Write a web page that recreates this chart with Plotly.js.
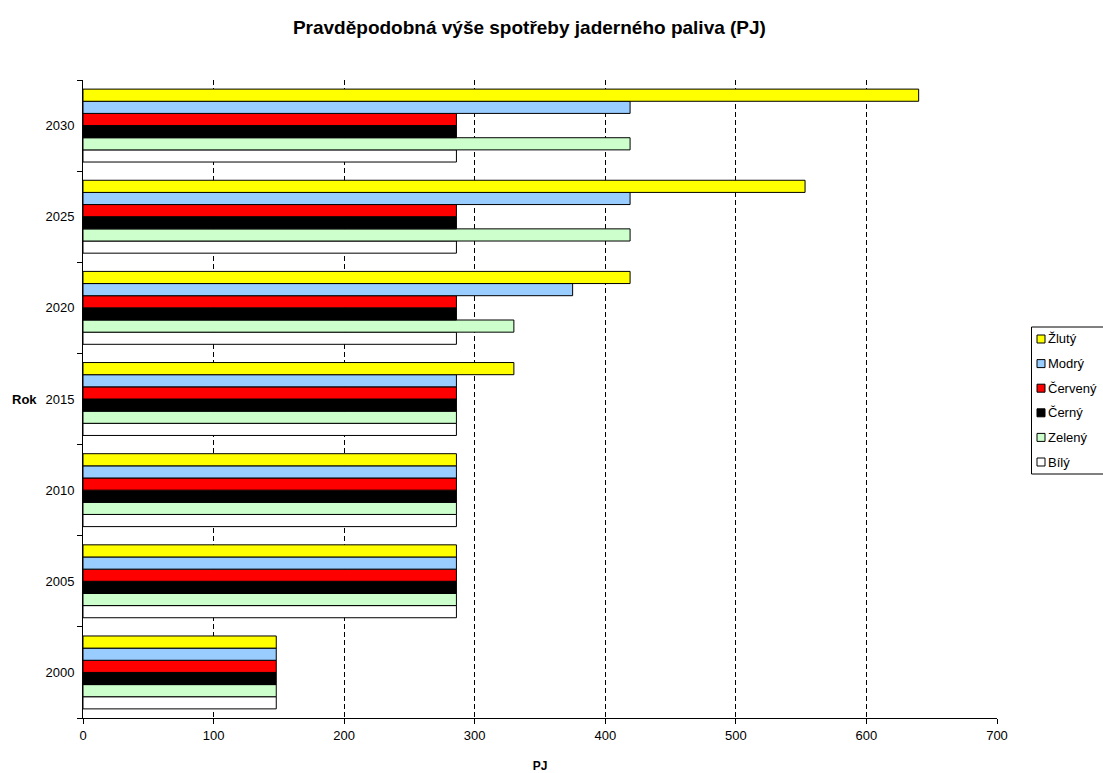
<!DOCTYPE html>
<html>
<head>
<meta charset="utf-8">
<script src="https://cdn.plot.ly/plotly-3.0.1.min.js"></script>
<style>html,body{margin:0;padding:0;background:#fff;}#chart{width:1103px;height:773px;}</style>
</head>
<body>
<div id="chart"></div>
<script>
const years = ["2000", "2005", "2010", "2015", "2020", "2025", "2030"];
const seriesNames = ["Žlutý", "Modrý", "Červený", "Černý", "Zelený", "Bílý"];
const zluty   = [148, 286, 286, 330, 419, 553, 640];
const modry   = [148, 286, 286, 286, 375, 419, 419];
const cerveny = [148, 286, 286, 286, 286, 286, 286];
const cerny   = [148, 286, 286, 286, 286, 286, 286];
const zeleny  = [148, 286, 286, 286, 330, 419, 419];
const bily    = [148, 286, 286, 286, 286, 286, 286];
const xTicks  = [0, 100, 200, 300, 400, 500, 600, 700];

const seriesValues = [zluty, modry, cerveny, cerny, zeleny, bily];
const colors = ["#FFFF00", "#99CCFF", "#FF0000", "#000000", "#CCFFCC", "#FFFFFF"];

// plot-area geometry (pixels) used only for placing the legend
const L = 83, R = 997, T = 80, B = 718;
const px2x = p => (p - L) / (R - L);
const px2y = p => (B - p) / (B - T);

const traces = [];
for (let i = seriesNames.length - 1; i >= 0; i--) {
  traces.push({
    type: "bar",
    orientation: "h",
    name: seriesNames[i],
    y: years,
    x: seriesValues[i],
    marker: { color: colors[i], line: { color: "#000000", width: 1 } },
    hoverinfo: "x+name",
    showlegend: false
  });
}

const font = "Liberation Sans, Arial, sans-serif";

const shapes = [{
  type: "rect", xref: "paper", yref: "paper",
  x0: px2x(1031.5), x1: px2x(1110), y0: px2y(474), y1: px2y(327),
  line: { color: "#000", width: 1 }, fillcolor: "#fff", layer: "above"
}];
const annotations = [{
  text: "<b>Rok</b>", xref: "paper", yref: "paper", x: px2x(39), xanchor: "right",
  y: px2y(400), yanchor: "middle", showarrow: false, font: { family: font, size: 13 }
}];
seriesNames.forEach((n, k) => {
  const cy = 339 + 24.6 * k;
  shapes.push({
    type: "rect", xref: "paper", yref: "paper",
    x0: px2x(1037), x1: px2x(1045), y0: px2y(cy + 4), y1: px2y(cy - 4),
    line: { color: "#000", width: 1 }, fillcolor: colors[k], layer: "above"
  });
  annotations.push({
    text: n, xref: "paper", yref: "paper", x: px2x(1046), xanchor: "left",
    y: px2y(cy), yanchor: "middle", showarrow: false,
    font: { family: font, size: 13, color: "#000" }
  });
});

const layout = {
  width: 1103, height: 773,
  margin: { l: L, r: 1103 - R, t: T, b: 773 - B },
  paper_bgcolor: "#ffffff", plot_bgcolor: "#ffffff",
  font: { family: font, size: 13, color: "#000" },
  title: { text: "<b>Pravděpodobná výše spotřeby jaderného paliva (PJ)</b>", font: { family: font, size: 19, color: "#000" }, x: 0.480, xanchor: "center", y: 0.965, yanchor: "middle" },
  barmode: "group",
  bargap: 0.2,
  bargroupgap: 0,
  showlegend: false,
  xaxis: {
    range: [0, 700], tickvals: xTicks, ticktext: xTicks.map(String),
    showgrid: true, gridcolor: "#000", griddash: "5px,3px", gridwidth: 1,
    showline: true, linecolor: "#000", linewidth: 1,
    ticks: "outside", ticklen: 5, tickcolor: "#000",
    zeroline: false, fixedrange: true,
    tickfont: { family: font, size: 13 },
    title: { text: "<b>PJ</b>", font: { family: font, size: 12 }, standoff: 20 }
  },
  yaxis: {
    type: "category", categoryorder: "array", categoryarray: years,
    showgrid: false, showline: true, linecolor: "#000", linewidth: 1,
    ticks: "outside", ticklen: 5, tickcolor: "#000", tickson: "boundaries",
    tickfont: { family: font, size: 13 }, ticklabelstandoff: 5,
    zeroline: false, fixedrange: true
  },
  shapes: shapes,
  annotations: annotations
};

Plotly.newPlot("chart", traces, layout, { displayModeBar: false, staticPlot: true });
</script>
</body>
</html>
